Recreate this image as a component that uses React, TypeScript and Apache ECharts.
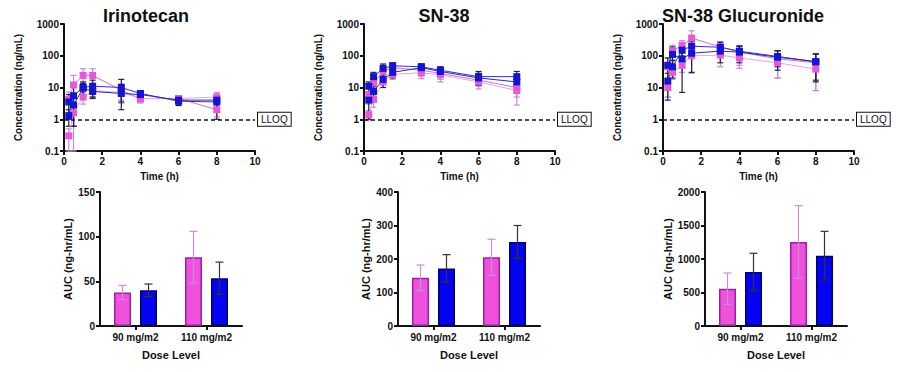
import React, { useEffect, useRef } from "react";
import * as echarts from "echarts";

// ---------- Data ----------
const timePoints = [0.25, 0.5, 1, 1.5, 3, 4, 6, 8];
const panelTitles = ["Irinotecan", "SN-38", "SN-38 Glucuronide"];
const lineSeriesNames = ["Pink A", "Pink B", "Blue A", "Blue B"];

// Irinotecan concentrations (ng/mL) and SD
const iriPinkA = [4.2, 12, 24, 24, 8.2, 4.5, 4.5, 2.0];
const iriPinkASd = [3, 12, 15, 15, 5, 1.2, 1.0, 0.8];
const iriPinkB = [0.3, 1.6, 5, 8, 7, 4.5, 4.5, 5];
const iriPinkBSd = [0.2, 1.0, 2, 3, 3, 1.2, 1.0, 2];
const iriBlueA = [1.3, 5.5, 10, 11, 10, 6.5, 3.7, 3.5];
const iriBlueASd = [0.7, 4.9, 5, 6, 8, 1.5, 1.0, 2.5];
const iriBlueB = [3.5, 2.8, 9.5, 7.5, 6.5, 6, 4, 4];
const iriBlueBSd = [2.5, 2.2, 4, 3, 3, 1.5, 1.0, 2];

// SN-38
const snPinkA = [6, 14, 32, 42, 35, 28, 17, 10];
const snPinkASd = [3, 6, 10, 15, 12, 10, 6, 5];
const snPinkB = [1.4, 4.2, 15, 26, 29, 25, 15, 8];
const snPinkBSd = [0.5, 1.8, 5, 8, 10, 10, 6, 5.2];
const snBlueA = [11, 22, 40, 48, 45, 35, 22, 22];
const snBlueASd = [4, 8, 15, 12, 10, 10, 10, 10];
const snBlueB = [4, 7.5, 18, 30, 42, 32, 20, 15];
const snBlueBSd = [3, 3, 8, 10, 12, 10, 8, 8];

// SN-38 Glucuronide
const gluPinkA = [45, 145, 210, 360, 190, 130, 80, 60];
const gluPinkASd = [40, 70, 90, 250, 90, 80, 60, 52];
const gluPinkB = [10, 30, 50, 100, 105, 85, 60, 38];
const gluPinkBSd = [5, 12, 20, 72, 60, 45, 40, 30];
const gluBlueA = [16, 45, 150, 200, 185, 140, 95, 65];
const gluBlueASd = [12, 25, 60, 80, 80, 60, 50, 50];
const gluBlueB = [50, 110, 80, 120, 140, 130, 90, 65];
const gluBlueBSd = [35, 80, 73, 90, 80, 70, 55, 48];

const lloq = 1;
const logTicks = [0.1, 1, 10, 100, 1000];

// AUC bars
const doseLevels = ["90 mg/m2", "110 mg/m2"];
const iriAucPink = [37.5, 77];
const iriAucPinkSd = [8, 29];
const iriAucBlue = [40, 53.5];
const iriAucBlueSd = [7, 18];
const snAucPink = [144, 205];
const snAucPinkSd = [38, 54];
const snAucBlue = [172, 251];
const snAucBlueSd = [41, 49];
const gluAucPink = [557, 1254];
const gluAucPinkSd = [234, 542];
const gluAucBlue = [806, 1050];
const gluAucBlueSd = [279, 363];
const aucMax = [150, 400, 2000];
const aucInterval = [50, 100, 500];

// ---------- Styles ----------
const FONT = "Liberation Sans";
const INK = "#111";
const pinkMarker = "#e45ad6";
const blueMarker = "#1414d2";
const lineColors = ["#cf6fda", "#e6a3ea", "#3434c4", "#2e2e86"];
const markerColors = [pinkMarker, pinkMarker, blueMarker, blueMarker];
const errColors = ["#c58ad4", "#c58ad4", "#222244", "#222244"];

const axisLine = { show: true, onZero: false, lineStyle: { color: INK, width: 2 } };
const axisTick = { show: true, length: 4, lineStyle: { color: INK, width: 2 } };
const plainNum = (v: number) => String(Number(v.toPrecision(6)));
const axisLabel = { color: INK, fontWeight: "bold", fontSize: 10, fontFamily: FONT, margin: 5, formatter: plainNum };

const topLeft = [64, 364, 663];
const botLeft = [100, 398, 705];
const titleCenter = [146, 444, 743];

const concData = [
  [iriPinkA, iriPinkB, iriBlueA, iriBlueB],
  [snPinkA, snPinkB, snBlueA, snBlueB],
  [gluPinkA, gluPinkB, gluBlueA, gluBlueB],
];
const concSd = [
  [iriPinkASd, iriPinkBSd, iriBlueASd, iriBlueBSd],
  [snPinkASd, snPinkBSd, snBlueASd, snBlueBSd],
  [gluPinkASd, gluPinkBSd, gluBlueASd, gluBlueBSd],
];
const aucData = [
  [iriAucPink, iriAucPinkSd, iriAucBlue, iriAucBlueSd],
  [snAucPink, snAucPinkSd, snAucBlue, snAucBlueSd],
  [gluAucPink, gluAucPinkSd, gluAucBlue, gluAucBlueSd],
];

function errRender(color: string, cap: number, offset: number) {
  return (params: any, api: any) => {
    const x = api.value(0);
    const lo = api.value(2);
    const hi = api.value(3);
    const a = api.coord([x, lo]);
    const b = api.coord([x, hi]);
    const cx = a[0] + offset;
    const style = { stroke: color, lineWidth: 1.2, fill: null };
    return {
      type: "group",
      children: [
        { type: "line", shape: { x1: cx, y1: a[1], x2: cx, y2: b[1] }, style },
        { type: "line", shape: { x1: cx - cap, y1: b[1], x2: cx + cap, y2: b[1] }, style },
        { type: "line", shape: { x1: cx - cap, y1: a[1], x2: cx + cap, y2: a[1] }, style },
      ],
    };
  };
}

function buildOption() {
  const grid: any[] = [];
  const xAxis: any[] = [];
  const yAxis: any[] = [];
  const series: any[] = [];
  const graphic: any[] = [];

  for (let p = 0; p < 3; p++) {
    grid.push({ left: topLeft[p], top: 24, width: 191, height: 127 });
    graphic.push({
      type: "text",
      x: titleCenter[p],
      y: 16,
      style: {
        text: panelTitles[p],
        align: "center",
        verticalAlign: "middle",
        fontFamily: FONT,
        fontWeight: "bold",
        fontSize: 18,
        fill: INK,
      },
    });
    xAxis.push({
      type: "value",
      gridIndex: p,
      min: 0,
      max: 10,
      interval: 2,
      name: "Time (h)",
      nameLocation: "middle",
      nameGap: 20,
      nameTextStyle: { fontFamily: FONT, fontWeight: "bold", fontSize: 10, color: INK },
      axisLine,
      axisTick,
      axisLabel,
      splitLine: { show: false },
    });
    yAxis.push({
      type: "log",
      gridIndex: p,
      logBase: 10,
      min: logTicks[0],
      max: logTicks[logTicks.length - 1],
      name: "Concentration (ng/mL)",
      nameLocation: "middle",
      nameGap: 41,
      nameTextStyle: { fontFamily: FONT, fontWeight: "bold", fontSize: 10, color: INK },
      axisLine,
      axisTick,
      axisLabel,
      splitLine: { show: false },
      minorTick: { show: false },
    });
    for (let s = 0; s < 4; s++) {
      const vals = concData[p][s];
      const sd = concSd[p][s];
      series.push({
        type: "custom",
        name: lineSeriesNames[s] + " SD",
        xAxisIndex: p,
        yAxisIndex: p,
        z: 1,
        silent: true,
        renderItem: errRender(errColors[s], 3, 0),
        encode: { x: 0, y: [1, 2, 3] },
        data: timePoints.map((t, i) => [t, vals[i], Math.max(vals[i] - sd[i], logTicks[0]), vals[i] + sd[i]]),
      });
    }
    for (let s = 0; s < 4; s++) {
      const vals = concData[p][s];
      const ser: any = {
        type: "line",
        name: lineSeriesNames[s],
        xAxisIndex: p,
        yAxisIndex: p,
        z: 2,
        symbol: "rect",
        symbolSize: 7,
        lineStyle: { color: lineColors[s], width: 1 },
        itemStyle: { color: markerColors[s] },
        data: timePoints.map((t, i) => [t, vals[i]]),
      };
      if (s === 0) {
        ser.markLine = {
          silent: true,
          symbol: "none",
          lineStyle: { color: INK, type: [4, 3], width: 1.6 },
          label: {
            show: true,
            position: "end",
            formatter: "LLOQ",
            distance: 3,
            color: INK,
            fontFamily: FONT,
            fontSize: 10,
            borderColor: INK,
            borderWidth: 1,
            padding: [2, 3, 1, 3],
            backgroundColor: "#fff",
          },
          data: [{ yAxis: lloq }],
        };
      }
      series.push(ser);
    }
  }

  for (let p = 0; p < 3; p++) {
    const gi = 3 + p;
    grid.push({ left: botLeft[p], top: 192, width: 142, height: 134 });
    xAxis.push({
      type: "category",
      gridIndex: gi,
      data: doseLevels,
      name: "Dose Level",
      nameLocation: "middle",
      nameGap: 23,
      nameTextStyle: { fontFamily: FONT, fontWeight: "bold", fontSize: 11, color: INK },
      axisLine,
      axisTick: { ...axisTick, alignWithLabel: true },
      axisLabel: { color: INK, fontWeight: "bold", fontSize: 10, fontFamily: FONT, margin: 6 },
    });
    yAxis.push({
      type: "value",
      gridIndex: gi,
      min: 0,
      max: aucMax[p],
      interval: aucInterval[p],
      name: "AUC (ng-hr/mL)",
      nameLocation: "middle",
      nameGap: 27,
      nameTextStyle: { fontFamily: FONT, fontWeight: "bold", fontSize: 11, color: INK },
      axisLine,
      axisTick,
      axisLabel,
      splitLine: { show: false },
    });
    const [pinkV, pinkSd, blueV, blueSd] = aucData[p];
    series.push({
      type: "bar",
      name: "Pink AUC",
      xAxisIndex: gi,
      yAxisIndex: gi,
      barWidth: 17,
      barGap: "53%",
      itemStyle: { color: "#ef50dc", borderColor: "#9b1fa8", borderWidth: 1.5 },
      data: pinkV,
    });
    series.push({
      type: "bar",
      name: "Blue AUC",
      xAxisIndex: gi,
      yAxisIndex: gi,
      barWidth: 17,
      barGap: "53%",
      itemStyle: { color: "#0404f2", borderColor: "#00006e", borderWidth: 1.5 },
      data: blueV,
    });
    series.push({
      type: "custom",
      name: "Pink AUC SD",
      xAxisIndex: gi,
      yAxisIndex: gi,
      z: 5,
      silent: true,
      renderItem: errRender("#c88fd6", 4, -13),
      encode: { x: 0, y: [1, 2, 3] },
      data: pinkV.map((v, i) => [i, v, v - pinkSd[i], v + pinkSd[i]]),
    });
    series.push({
      type: "custom",
      name: "Blue AUC SD",
      xAxisIndex: gi,
      yAxisIndex: gi,
      z: 5,
      silent: true,
      renderItem: errRender("#333", 4, 13),
      encode: { x: 0, y: [1, 2, 3] },
      data: blueV.map((v, i) => [i, v, v - blueSd[i], v + blueSd[i]]),
    });
  }

  return {
    animation: false,
    backgroundColor: "#fff",
    textStyle: { fontFamily: FONT },
    graphic,
    grid,
    xAxis,
    yAxis,
    series,
  };
}

export default function App() {
  const ref = useRef<HTMLDivElement>(null);
  useEffect(() => {
    if (!ref.current) return;
    const chart = echarts.init(ref.current, null, { renderer: "svg" });
    chart.setOption(buildOption() as any);
    return () => chart.dispose();
  }, []);
  return (
    <div
      ref={ref}
      style={{ position: "absolute", left: 0, top: 0, width: 900, height: 372, background: "#fff" }}
    />
  );
}
